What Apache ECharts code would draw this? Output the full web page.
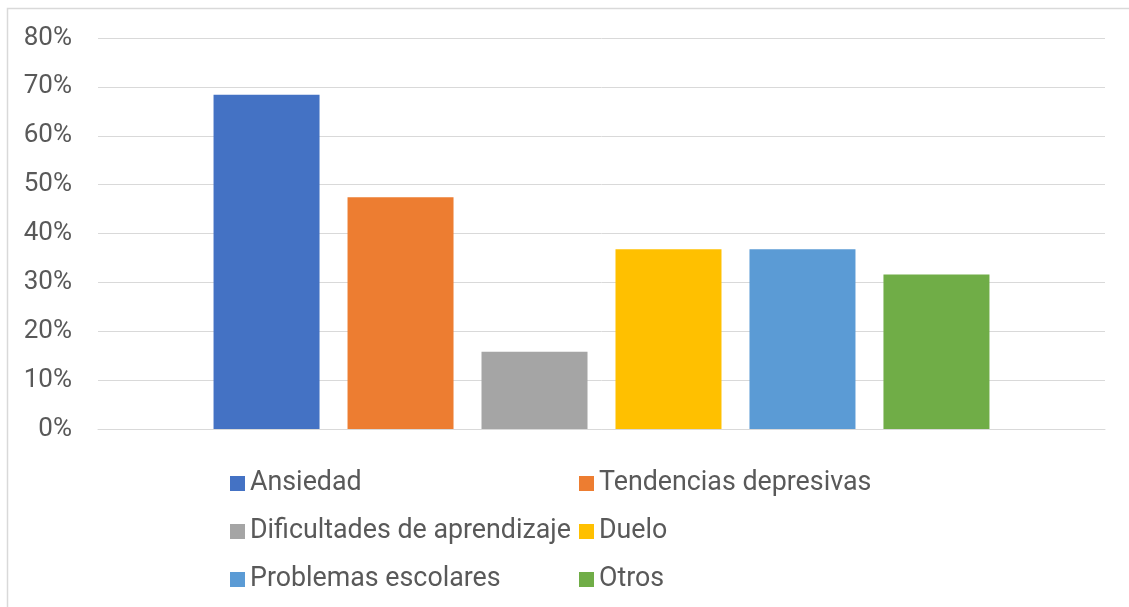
<!DOCTYPE html>
<html>
<head>
<meta charset="utf-8">
<script src="https://cdn.jsdelivr.net/npm/echarts@6/dist/echarts.min.js"></script>
<style>
html,body{margin:0;padding:0;background:#fff;}
#c{width:1129px;height:607px;}
</style>
</head>
<body>
<div id="c"></div>
<script>
const categories = [''];
const seriesNames = ['Ansiedad','Tendencias depresivas','Dificultades de aprendizaje','Duelo','Problemas escolares','Otros'];
const seriesValues = [68.4, 47.4, 15.8, 36.8, 36.8, 31.6];
const seriesColors = ['#4472C4','#ED7D31','#A5A5A5','#FFC000','#5B9BD5','#70AD47'];
const yTicks = [0,10,20,30,40,50,60,70,80];

const chart = echarts.init(document.getElementById('c'), null, {renderer:'canvas'});
const font = 'Roboto';
const textColor = '#595959';
const legendText = {fontFamily: font, fontSize: 26.8, color: textColor, lineHeight: 30};

const series = seriesNames.map((n,i)=>({
  name: n,
  type: 'bar',
  data: [seriesValues[i]],
  barWidth: 106,
  barGap: '26.4%',
  itemStyle: {color: seriesColors[i]},
  emphasis: {disabled: true},
  animation: false
}));

chart.setOption({
  animation: false,
  color: seriesColors,
  graphic: [{
    type: 'rect',
    shape: {x: 7.5, y: 8.5, width: 1200, height: 700},
    style: {fill: 'none', stroke: '#D9D9D9', lineWidth: 1.5},
    silent: true
  }],
  grid: {left: 98, right: 24, top: 38, bottom: 178, containLabel: false},
  xAxis: {
    type: 'category',
    data: categories,
    axisLine: {show: true, lineStyle: {color: '#D9D9D9', width: 1}},
    axisTick: {show: false},
    axisLabel: {show: false}
  },
  yAxis: {
    type: 'value',
    min: yTicks[0],
    max: yTicks[yTicks.length-1],
    interval: 10,
    axisLine: {show: false},
    axisTick: {show: false},
    axisLabel: {formatter: '{value}%', fontFamily: font, fontSize: 26, color: textColor, margin: 26, padding: [5,0,0,0]},
    splitLine: {lineStyle: {color: '#D9D9D9', width: 1}}
  },
  legend: [
    {
      orient: 'vertical', left: 230, top: 468.5, padding: 0,
      itemWidth: 15, itemHeight: 15, itemGap: 18,
      icon: 'rect',
      data: [seriesNames[0], seriesNames[2], seriesNames[4]],
      textStyle: legendText,
      selectedMode: false
    },
    {
      orient: 'vertical', left: 579, top: 468.5, padding: 0,
      itemWidth: 15, itemHeight: 15, itemGap: 18,
      icon: 'rect',
      data: [seriesNames[1], seriesNames[3], seriesNames[5]],
      textStyle: legendText,
      selectedMode: false
    }
  ],
  series: series
});
</script>
</body>
</html>
